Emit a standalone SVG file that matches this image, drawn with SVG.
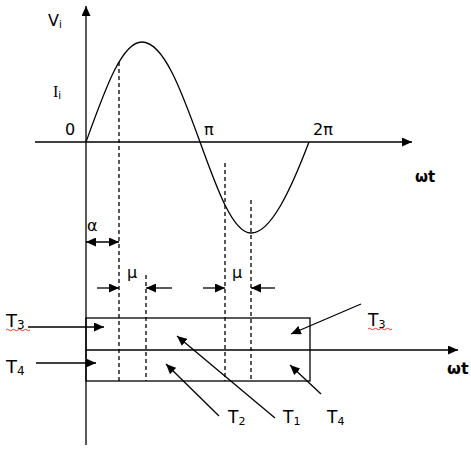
<svg xmlns="http://www.w3.org/2000/svg" width="471" height="453" viewBox="0 0 471 453">
<defs>
<marker id="ah" markerUnits="userSpaceOnUse" markerWidth="11" markerHeight="9" refX="10" refY="4.5" orient="auto-start-reverse">
<path d="M0,0 L10,4.5 L0,9 Z" fill="#000"/>
</marker>
</defs>
<style>
.ln{stroke:#000;stroke-width:1.3;fill:none}
.ds{stroke:#000;stroke-width:1.3;fill:none;stroke-dasharray:4,3}
.t{font-family:"DejaVu Sans",Verdana,sans-serif;fill:#000}
.b{font-weight:bold}
.sq{stroke:#e02020;stroke-width:0.9;fill:none}
</style>
<rect width="471" height="453" fill="#fff"/>
<g id="axes">
<line class="ln" x1="86" y1="445" x2="86" y2="6" marker-end="url(#ah)"/>
<line class="ln" x1="35" y1="142" x2="412" y2="142" marker-end="url(#ah)"/>
<line class="ln" x1="86" y1="350" x2="458" y2="350" marker-end="url(#ah)"/>
</g>
<g id="waveform">
<path class="ln" d="M86,142 C104.6,90.8 121.4,42 142,42 C163.6,42 181.4,90.8 200,142 C216.8,188.6 232.8,233 251,233 C271.2,233 291.2,188.6 309,142"/>
</g>
<g id="dashes">
<line class="ds" x1="119" y1="62" x2="119" y2="381"/>
<line class="ds" x1="146" y1="275" x2="146" y2="381"/>
<line class="ds" x1="225" y1="163" x2="225" y2="381"/>
<line class="ds" x1="251" y1="200" x2="251" y2="381"/>
</g>
<g id="bars">
<rect class="ln" x="86" y="318" width="224" height="63"/>
</g>
<g id="connectors">
<line class="ln" x1="86" y1="242" x2="119" y2="242" marker-start="url(#ah)" marker-end="url(#ah)"/>
<line class="ln" x1="97" y1="288" x2="119" y2="288" marker-end="url(#ah)"/>
<line class="ln" x1="172" y1="288" x2="146" y2="288" marker-end="url(#ah)"/>
<line class="ln" x1="203" y1="288" x2="225" y2="288" marker-end="url(#ah)"/>
<line class="ln" x1="275" y1="288" x2="251" y2="288" marker-end="url(#ah)"/>
<line class="ln" x1="28" y1="327" x2="104" y2="327" marker-end="url(#ah)"/>
<line class="ln" x1="36" y1="363" x2="96" y2="363" marker-end="url(#ah)"/>
<line class="ln" x1="361" y1="304" x2="291" y2="334" marker-end="url(#ah)"/>
<line class="ln" x1="321" y1="394" x2="290" y2="365" marker-end="url(#ah)"/>
<line class="ln" x1="275" y1="418" x2="177" y2="336" marker-end="url(#ah)"/>
<line class="ln" x1="219" y1="416" x2="166" y2="364" marker-end="url(#ah)"/>
</g>
<g id="labels">
<text class="t" x="48" y="26" font-size="16">V<tspan font-size="10" dy="2">i</tspan></text>
<text x="53" y="97" font-size="16" font-family="'Liberation Serif',serif">I<tspan font-size="10" dy="2" font-family="'DejaVu Sans',sans-serif">i</tspan></text>
<text class="t" x="65" y="135" font-size="16">0</text>
<text class="t" x="204" y="135" font-size="16">π</text>
<text class="t" x="313" y="135" font-size="16">2π</text>
<text class="t b" x="415" y="182" font-size="15">ωt</text>
<text class="t" x="87" y="231" font-size="16">α</text>
<text class="t" x="127" y="278" font-size="16">μ</text>
<text class="t" x="232" y="278" font-size="16">μ</text>
<text class="t" x="6" y="327" font-size="18">T<tspan font-size="12" dy="2">3</tspan></text>
<text class="t" x="6" y="373" font-size="18">T<tspan font-size="12" dy="2">4</tspan></text>
<text class="t" x="368" y="326" font-size="17">T<tspan font-size="11" dy="2">3</tspan></text>
<text class="t" x="228" y="423" font-size="17">T<tspan font-size="11" dy="2">2</tspan></text>
<text class="t" x="283" y="423" font-size="17">T<tspan font-size="11" dy="2">1</tspan></text>
<text class="t" x="327" y="423" font-size="17">T<tspan font-size="11" dy="2">4</tspan></text>
<text class="t b" x="447" y="374" font-size="16">ωt</text>
<path class="sq" d="M6,330 q1.5,-1.5 3,0 t3,0 t3,0 t3,0 t3,0 t3,0 t3,0 t3,0"/>
<path class="sq" d="M368,329 q1.5,-1.5 3,0 t3,0 t3,0 t3,0 t3,0 t3,0 t3,0 t3,0"/>
</g>
</svg>
